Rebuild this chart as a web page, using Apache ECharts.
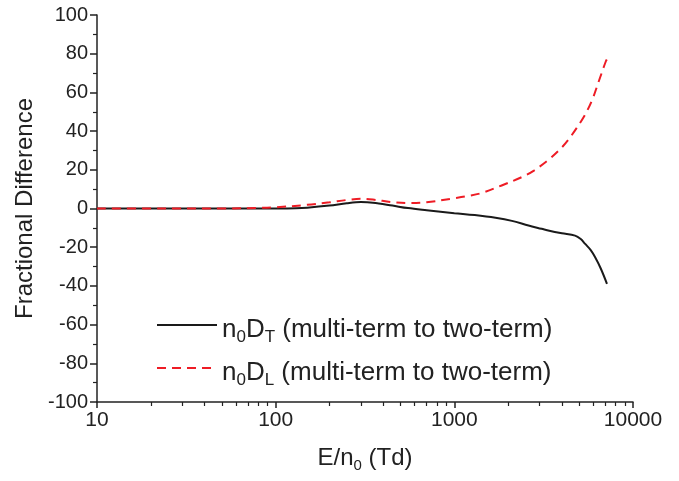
<!DOCTYPE html>
<html><head><meta charset="utf-8">
<script src="https://cdn.jsdelivr.net/npm/echarts@6/dist/echarts.min.js"></script>
<style>html,body{margin:0;padding:0;background:#fff}#c{width:679px;height:481px}</style>
</head><body><div id="c"></div>
<script>
// E/n0 (Td) and fractional difference (%)
var eT = [10, 20, 50, 100, 130, 150, 200, 250, 300, 350, 450, 550, 700, 1000, 1300, 1700, 2100, 2600, 3080, 3400, 4000, 4740, 5100, 5400, 5800, 6140, 6600, 7150];
var vT = [0, 0, 0, 0, 0.1, 0.4, 1.5, 2.7, 3.3, 3.0, 1.5, 0.2, -0.9, -2.4, -3.4, -4.8, -6.4, -8.8, -10.5, -11.5, -12.8, -14.0, -15.8, -18.3, -21.5, -25.2, -31.0, -38.9];
var eL = [10, 20, 50, 80, 100, 150, 200, 250, 300, 350, 450, 550, 700, 1000, 1200, 1420, 1840, 2380, 2790, 3400, 3990, 4450, 5290, 5890, 6410, 7050, 7200];
var vL = [0, 0, 0, 0.3, 0.6, 1.9, 3.2, 4.4, 5.0, 4.6, 3.3, 2.8, 3.2, 5.3, 6.5, 8.0, 11.9, 16.2, 19.6, 25.5, 31.5, 36.8, 47.2, 55.8, 65.3, 76.1, 77.6];
var xMajor = [10, 100, 1000, 10000];
var xMinor = [20, 30, 40, 50, 60, 70, 80, 90, 200, 300, 400, 500, 600, 700, 800, 900, 2000, 3000, 4000, 5000, 6000, 7000, 8000, 9000];
var yTicks = [-100, 100, 20];

function pairs(xs, ys) { return xs.map(function (x, i) { return [x, ys[i]]; }); }

var chart = echarts.init(document.getElementById('c'), null, { renderer: 'canvas' });
var font = 'Liberation Sans, Arial, sans-serif';
var ink = '#222';
chart.setOption({
  animation: false,
  grid: { left: 97, right: 46, top: 15, bottom: 79 },
  legend: {
    orient: 'vertical', left: 151, top: 312, itemGap: 14,
    itemWidth: 60, itemHeight: 14,
    itemStyle: { opacity: 0 },
    textStyle: { fontSize: 26, fontFamily: font, color: ink,
      rich: {
        t: { fontSize: 26, fontFamily: font, color: ink, padding: [10, 0, 0, 0] },
        sub: { fontSize: 17, fontFamily: font, color: ink, padding: [25, 0, 0, 0] }
      } },
    formatter: function (name) {
      return name === 'T' ? '{t|n}{sub|0}{t|D}{sub|T}{t| (multi-term to two-term)}'
                          : '{t|n}{sub|0}{t|D}{sub|L}{t| (multi-term to two-term)}';
    },
    data: ['T', 'L']
  },
  xAxis: [{
    type: 'log', logBase: 10, min: 10, max: 10000,
    name: '{t|E/n}{sub|0}{t| (Td)}', nameLocation: 'middle', nameGap: 42,
    nameTextStyle: { fontSize: 24, fontFamily: font, color: ink,
      rich: { t: { fontSize: 24, fontFamily: font, color: ink },
              sub: { fontSize: 15, fontFamily: font, color: ink, padding: [14, 0, 0, 0] } } },
    axisLine: { onZero: false, lineStyle: { color: ink, width: 1.5 } },
    axisTick: { show: true, length: 6, lineStyle: { color: ink, width: 1.5 }, customValues: xMajor },
    axisLabel: { fontSize: 21, fontFamily: font, color: ink, margin: 8, customValues: xMajor,
      formatter: function (v) { return String(v); } },
    splitLine: { show: false }, minorTick: { show: false }
  }, {
    type: 'log', logBase: 10, min: 10, max: 10000, position: 'bottom',
    axisLine: { show: false, onZero: false },
    axisTick: { show: true, length: 4, lineStyle: { color: ink, width: 1.2 }, customValues: xMinor },
    axisLabel: { show: false },
    splitLine: { show: false }
  }],
  yAxis: {
    type: 'value', min: yTicks[0], max: yTicks[1], interval: yTicks[2],
    name: 'Fractional Difference', nameLocation: 'middle', nameGap: 57,
    nameTextStyle: { fontSize: 24, fontFamily: font, color: ink },
    axisLine: { show: true, lineStyle: { color: ink, width: 1.5 } },
    axisTick: { show: true, length: 7, lineStyle: { color: ink, width: 1.5 } },
    minorTick: { show: true, splitNumber: 2, length: 4, lineStyle: { color: ink, width: 1.2 } },
    axisLabel: { fontSize: 20, fontFamily: font, color: ink, margin: 9 },
    splitLine: { show: false }
  },
  series: [{
    name: 'T', type: 'line', smooth: 0.35, symbol: 'none', data: pairs(eT, vT),
    lineStyle: { color: '#1a1a1a', width: 2 }, itemStyle: { color: '#1a1a1a' }
  }, {
    name: 'L', type: 'line', smooth: 0.35, symbol: 'none', data: pairs(eL, vL),
    lineStyle: { color: '#ee1c25', width: 2, type: [9, 6] }, itemStyle: { color: '#ee1c25' }
  }]
});
</script></body></html>
